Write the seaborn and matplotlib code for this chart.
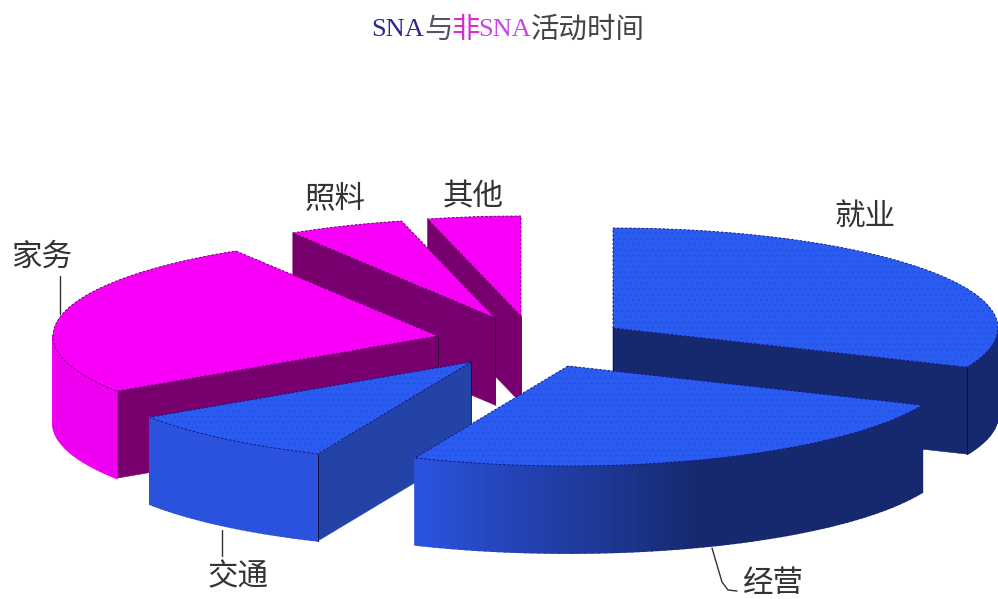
import numpy as np
import matplotlib
matplotlib.use("Agg")
import matplotlib.pyplot as plt
import seaborn as sns

categories = ["就业", "经营", "交通", "家务", "照料", "其他"]
values = [31.4, 25.1, 9.2, 25.5, 4.9, 3.9]
title_parts = ["SNA", "与", "非", "SNA", "活动时间"]

# layout / style (pixels of the 998x599 picture)
RX, RY, DEPTH = 385, 100, 87
apex = {"就业": (613, 328), "经营": (568, 366), "交通": (471, 362),
        "家务": (438, 336), "照料": (495, 318), "其他": (521, 316)}
BLUE, BLUE_DK, BLUE_MID = "#2b5cf2", "#16296e", "#2343a6"
MAG, MAG_RIM, PUR = "#f800f8", "#f000f0", "#78006e"
top_col = dict(zip(categories, [BLUE, BLUE, BLUE, MAG, MAG, MAG]))
side_col = dict(zip(categories, [BLUE_DK, BLUE_DK, BLUE_MID, PUR, PUR, PUR]))
edge_col = dict(zip(categories, ["#10107a"] * 3 + ["#500050"] * 3))
hatch_col = dict(zip(categories, ["#2450dc"] * 3 + [MAG] * 3))
order = ["其他", "照料", "家务", "就业", "交通", "经营"]

sns.set_theme(style="white")
plt.rcParams["font.family"] = ["Noto Sans CJK SC", "DejaVu Sans"]
plt.rcParams["hatch.linewidth"] = 0.6

fig = plt.figure(figsize=(9.98, 5.99), dpi=100, facecolor="white")
ax = fig.add_axes([0, 0, 1, 1])
ax.set_xlim(0, 998)
ax.set_ylim(599, 0)
ax.axis("off")

# wedge angles, clockwise from 12 o'clock, from the values
shares = np.array(values) / sum(values) * 360
edges = 90 - np.concatenate([[0], np.cumsum(shares)])
angles = {c: (edges[i + 1], edges[i]) for i, c in enumerate(categories)}


def rim_point(c, a):
    x0, y0 = apex[c]
    r = np.radians(a)
    return x0 + RX * np.cos(r), y0 - RY * np.sin(r)


def rim_colour(c, a):
    wrapped = (a + 180) % 360 - 180
    if top_col[c] == MAG:
        return MAG_RIM
    t = np.clip((wrapped + 112) / 42, 0, 1)
    lo = np.array(matplotlib.colors.to_rgb("#2a52dc"))
    hi = np.array(matplotlib.colors.to_rgb(BLUE_DK))
    return tuple(lo + (hi - lo) * t)


for c in order:
    lo, hi = angles[c]
    x0, y0 = apex[c]
    ec = edge_col[c]
    z = order.index(c) * 10
    # radial walls facing the viewer
    for a, normal in ((lo, lo - 90), (hi, hi + 90)):
        if np.sin(np.radians(normal)) < -1e-6:
            x1, y1 = rim_point(c, a)
            ax.fill([x0, x1, x1, x0], [y0, y1, y1 + DEPTH, y0 + DEPTH],
                    color=side_col[c], lw=0.4, zorder=z + 1)
            ax.plot([x0, x0], [y0, y0 + DEPTH], color="#300030" if top_col[c] == MAG else "#0a1040",
                    lw=0.6, zorder=z + 3)
            if top_col[c] != MAG:
                ax.plot([x1, x1], [y1, y1 + DEPTH], color="#0a1040", lw=0.7, zorder=z + 3)
    # curved outer wall: only the part on the near side
    arc = np.arange(lo, hi, 1.0)
    arc = np.append(arc, hi)
    for a1, a2 in zip(arc[:-1], arc[1:]):
        if np.sin(np.radians((a1 + a2) / 2)) >= 0:
            continue
        xa, ya = rim_point(c, a1)
        xb, yb = rim_point(c, a2)
        col = rim_colour(c, (a1 + a2) / 2)
        ax.fill([xa, xb, xb, xa], [ya, yb, yb + DEPTH, ya + DEPTH], color=col,
                lw=1.3, zorder=z + 2)
    # top face
    px, py = zip(*[rim_point(c, a) for a in arc])
    tx, ty = [x0, *px, x0], [y0, *py, y0]
    ax.fill(tx, ty, facecolor=top_col[c], edgecolor=hatch_col[c], hatch="...", lw=0, zorder=z + 4)
    ax.plot(tx, ty, color=ec, lw=0.6, ls=(0, (3, 2)), zorder=z + 5)

# leader lines
leader_style = dict(color="#333333", lw=1.0, zorder=90)
ax.plot([60, 60], [276, 314], **leader_style)
ax.plot([222, 222], [530, 556], **leader_style)
ax.plot([712, 722, 728, 737], [548, 582, 590, 591], **leader_style)

# labels
lab = dict(fontsize=22, color="#333333", ha="center", va="center", zorder=100)
label_pos = dict(zip(categories, [(865, 216), (773, 584), (238, 577), (42, 257), (335, 200), (473, 197)]))
for c in categories:
    ax.text(*label_pos[c], c, **lab)

# multi-coloured title
title_x = [371, 424, 451, 478, 531]
title_col = ["#2a2a90", "#555566", "#d030d0", "#c848e8", "#444444"]
title_font = ["Liberation Serif", "Noto Sans CJK SC", "Noto Sans CJK SC", "Liberation Serif", "Noto Sans CJK SC"]
for s, x, col, fam in zip(title_parts, title_x, title_col, title_font):
    ax.text(x, 30, s, color=col, family=fam, fontsize=19 if fam != "Noto Sans CJK SC" else 20.5,
            ha="left", va="center", zorder=100)

fig.savefig("out.png", dpi=100, facecolor="white")
